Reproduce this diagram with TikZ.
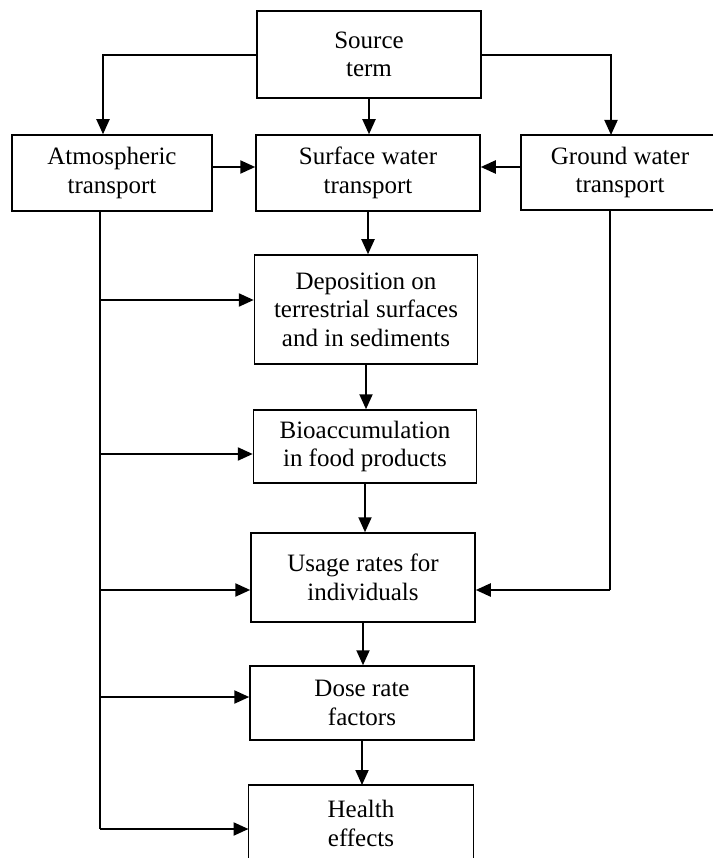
\documentclass[tikz,border=0pt]{standalone}
\usepackage{fontspec}
\setmainfont{Liberation Serif}
\usetikzlibrary{arrows.meta}
\begin{document}
\begin{tikzpicture}[x=1pt,y=-1pt,
  txt/.style={align=center, font=\fontsize{25}{28.5}\selectfont, inner sep=0pt},
  box/.style={txt, draw, line width=1.5pt},
  conn/.style={line width=1.4pt},
  arr/.style={line width=1.9pt, -{Triangle[length=15pt,width=13pt]}},
  harr/.style={line width=2.3pt, -{Triangle[length=15pt,width=13pt]}},
  edge/.style={line width=1.5pt}
]
\useasboundingbox (0,0) rectangle (713,858);

% boxes
\node[box, minimum width=224pt, minimum height=87pt] (src) at (369,54.5) {Source\\term};
\node[box, minimum width=200pt, minimum height=76pt] (atm) at (112,173) {Atmospheric\\transport};
\node[box, minimum width=224pt, minimum height=76pt] (sw) at (368,173) {Surface water\\transport};
\node[txt] (gw) at (620,172.5) {Ground water\\transport};
\coordinate (gwTL) at (521,135);
\coordinate (gwBL) at (521,210);
\draw[edge] (gwTL -| 713,0) -- (gwTL) -- (gwBL) -- (gwBL -| 713,0);
\node[box, minimum width=223pt, minimum height=109pt] (dep) at (366,309.5) {Deposition on\\terrestrial surfaces\\and in sediments};
\node[box, minimum width=223pt, minimum height=73pt] (bio) at (365,446.5) {Bioaccumulation\\in food products};
\node[box, minimum width=224pt, minimum height=89pt] (use) at (363,577.5) {Usage rates for\\individuals};
\node[box, minimum width=224pt, minimum height=74pt] (dose) at (362,703) {Dose rate\\factors};
\node[txt] (hea) at (361,823.5) {Health\\effects};
\coordinate (heTL) at (248.5,785);
\coordinate (heTR) at (473.5,785);
\draw[edge] (heTL |- 0,858) -- (heTL) -- (heTR) -- (heTR |- 0,858);

% source term branches
\coordinate (srcL) at (103,55);
\coordinate (srcR) at (611,55);
\draw[arr] (src.west |- srcL) -- (srcL) -- (srcL |- atm.north);
\draw[arr] (src.east |- srcR) -- (srcR) -- (srcR |- gwTL);
\draw[arr] (src.south) -- (src.south |- sw.north);

% into surface water
\coordinate (swin) at (0,167);
\draw[harr] (atm.east |- swin) -- (sw.west |- swin);
\draw[harr] (gwTL |- swin) -- (sw.east |- swin);

% centre chain
\draw[arr] (sw.south) -- (sw.south |- dep.north);
\draw[arr] (dep.south) -- (dep.south |- bio.north);
\draw[arr] (bio.south) -- (bio.south |- use.north);
\draw[arr] (use.south) -- (use.south |- dose.north);
\draw[arr] (dose.south) -- (dose.south |- heTL);

% atmospheric bus
\coordinate (b1) at (100,300);
\coordinate (b2) at (100,454);
\coordinate (b3) at (100,590);
\coordinate (b4) at (100,697);
\coordinate (b5) at (100,829);
\draw[conn] (b1 |- atm.south) -- (b5);
\draw[harr] (b1) -- (b1 -| dep.west);
\draw[harr] (b2) -- (b2 -| bio.west);
\draw[harr] (b3) -- (b3 -| use.west);
\draw[harr] (b4) -- (b4 -| dose.west);
\draw[harr] (b5) -- (b5 -| heTL);

% ground water to usage
\coordinate (g1) at (610,590);
\draw[conn] (g1 |- gwBL) -- (g1);
\draw[harr] (g1) -- (g1 -| use.east);
\end{tikzpicture}
\end{document}
